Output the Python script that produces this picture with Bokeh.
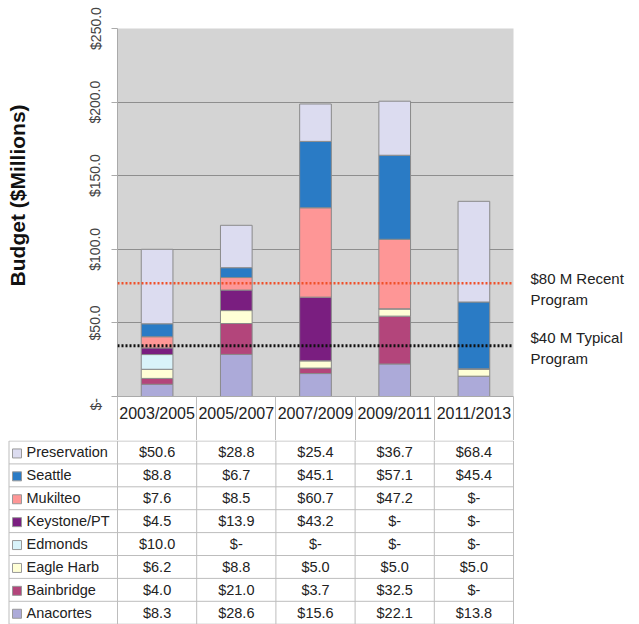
from bokeh.plotting import figure
from bokeh.models import Range1d, FixedTicker, NumeralTickFormatter, Span, ColumnDataSource, LinearAxis
from bokeh.layouts import column
from bokeh.core.properties import value
from bokeh.embed import file_html
from bokeh.resources import INLINE

periods = ["2003/2005", "2005/2007", "2007/2009", "2009/2011", "2011/2013"]
preservation = [50.6, 28.8, 25.4, 36.7, 68.4]
seattle = [8.8, 6.7, 45.1, 57.1, 45.4]
mukilteo = [7.6, 8.5, 60.7, 47.2, 0.0]
keystone = [4.5, 13.9, 43.2, 0.0, 0.0]
edmonds = [10.0, 0.0, 0.0, 0.0, 0.0]
eagle_harb = [6.2, 8.8, 5.0, 5.0, 5.0]
bainbridge = [4.0, 21.0, 3.7, 32.5, 0.0]
anacortes = [8.3, 28.6, 15.6, 22.1, 13.8]

# stacked bottom -> top
series_names = ["Anacortes", "Bainbridge", "Eagle Harb", "Edmonds", "Keystone/PT", "Mukilteo", "Seattle", "Preservation"]
series_values = [anacortes, bainbridge, eagle_harb, edmonds, keystone, mukilteo, seattle, preservation]
series_colors = ["#acaad9", "#b3457b", "#ffffd6", "#d9f3fa", "#7a1e80", "#fe9696", "#2a7bc5", "#dcdcf0"]

y_ticks = [0, 50, 100, 150, 200, 250]
recent_program = 77.0
typical_program = 34.5
y_title = "Budget ($Millions)"
note_texts = ["$80 M Recent", "Program", "$40 M Typical", "Program"]
note_pos = [80.2, 65.9, 40.1, 25.8]

FONT_NAME = "Liberation Sans"
FONT = value(FONT_NAME)
TXT = "#222222"

W = 639
# ---------------- chart ----------------
p = figure(width=W, height=440, output_backend="svg", toolbar_location=None,
           x_range=Range1d(-0.5, len(periods) - 0.5), y_range=Range1d(0, 250),
           min_border_left=117, min_border_right=126, min_border_top=28, min_border_bottom=44,
           frame_align=False)
p.background_fill_color = "#d4d4d4"
p.border_fill_color = "white"
p.outline_line_color = None
p.xgrid.grid_line_color = None
p.ygrid.grid_line_color = "#8e8e8e"
p.ygrid.ticker = FixedTicker(ticks=y_ticks[1:])

src = {"x": list(range(len(periods)))}
for n, v in zip(series_names, series_values):
    src[n] = v
source = ColumnDataSource(src)
p.vbar_stack(series_names, x="x", width=0.4, source=source, color=series_colors,
             line_color="#8a8a8a", line_width=1)

p.add_layout(Span(location=recent_program, dimension="width", line_color="#f0502a",
                  line_dash="2 2", line_width=2.5))
p.add_layout(Span(location=typical_program, dimension="width", line_color="#111111",
                  line_dash="2 2", line_width=3))

# y axis
ya = p.yaxis[0]
ya.ticker = FixedTicker(ticks=y_ticks)
ya.formatter = NumeralTickFormatter(format="$0.0")
ya.major_label_overrides = {0: "$-\u00a0\u00a0\u00a0\u00a0"}
ya.major_label_orientation = "vertical"
ya.major_label_text_font = FONT_NAME
ya.major_label_text_font_size = "14px"
ya.major_label_text_color = "#444444"
ya.major_label_standoff = 8
ya.major_tick_out = 6
ya.major_tick_in = 0
ya.major_tick_line_color = "#aaaaaa"
ya.minor_tick_line_color = None
ya.axis_line_color = "#aaaaaa"

# title axis on the left (second, further out)
ta = LinearAxis(ticker=FixedTicker(ticks=[136.6]), major_label_overrides={136.6: y_title},
                major_label_orientation="vertical", major_label_text_font=FONT_NAME,
                major_label_text_font_size="21px", major_label_text_font_style="bold",
                major_label_text_color="#111111", major_label_standoff=55,
                major_tick_line_color=None, minor_tick_line_color=None, axis_line_color=None,
                major_tick_out=0, major_tick_in=0)
p.add_layout(ta, "left")

# notes on the right
ra = LinearAxis(ticker=FixedTicker(ticks=note_pos),
                major_label_overrides={v: s for v, s in zip(note_pos, note_texts)},
                major_label_orientation="horizontal", major_label_text_font=FONT_NAME,
                major_label_text_font_size="15px", major_label_text_color=TXT,
                major_label_standoff=17, major_tick_line_color=None, minor_tick_line_color=None,
                axis_line_color=None, major_tick_out=0, major_tick_in=0)
p.add_layout(ra, "right")

# x axis (header row)
xa = p.xaxis[0]
xa.ticker = FixedTicker(ticks=list(range(len(periods))),
                        minor_ticks=[i - 0.5 for i in range(len(periods) + 1)])
xa.major_label_overrides = {i: s for i, s in enumerate(periods)}
xa.major_label_text_font = FONT_NAME
xa.major_label_text_font_size = "16px"
xa.major_label_text_color = TXT
xa.major_label_standoff = -36
xa.major_tick_line_color = None
xa.major_tick_out = 0
xa.minor_tick_out = 44
xa.minor_tick_in = 0
xa.minor_tick_line_color = "#bdbdbd"
xa.axis_line_color = "#aaaaaa"

# ---------------- table ----------------
TH = 184
t = figure(width=W, height=TH, output_backend="svg", toolbar_location=None,
           x_range=Range1d(0, W), y_range=Range1d(TH, 0),
           x_axis_type=None, y_axis_type=None, min_border=0, frame_align=False)
t.outline_line_color = None
t.background_fill_color = "white"
t.border_fill_color = "white"

tab_left = 8.5
col_left = 117.0
col_w = 79.2
row_h = 22.9
rows_top_to_bottom = list(range(len(series_names)))[::-1]

hx0, hx1, hy = [], [], []
for i in range(len(series_names) + 1):
    hx0.append(tab_left); hx1.append(col_left + col_w * len(periods)); hy.append(0.5 + row_h * i)
t.segment(x0=hx0, y0=hy, x1=hx1, y1=hy, line_color="#bdbdbd", line_width=1)
vx = [tab_left] + [col_left + col_w * j for j in range(len(periods) + 1)]
t.segment(x0=vx, y0=[0.5] * len(vx), x1=vx, y1=[0.5 + row_h * len(series_names)] * len(vx),
          line_color="#bdbdbd", line_width=1)

names, ny, sq_col = [], [], []
vals, vxs, vys = [], [], []
for r, si in enumerate(rows_top_to_bottom):
    yc = 0.5 + row_h * r + row_h / 2
    names.append(series_names[si]); ny.append(yc); sq_col.append(series_colors[si])
    for c, v in enumerate(series_values[si]):
        vals.append("$-" if v == 0 else f"${v:.1f}")
        vxs.append(col_left + col_w * (c + 0.5))
        vys.append(yc)

t.rect(x=[tab_left + 8] * len(names), y=[y + 1 for y in ny], width=9, height=9, fill_color=sq_col,
       line_color="#999999", line_width=1)
t.text(x=[tab_left + 17.5] * len(names), y=ny, text=names, text_font=FONT, text_font_size=value("14.5px"),
       text_color=TXT, text_baseline="middle", text_align="left")
t.text(x=vxs, y=vys, text=vals, text_font=FONT, text_font_size=value("14.5px"),
       text_color=TXT, text_baseline="middle", text_align="center")

layout = column(p, t, spacing=0)
open("out.html", "w").write(file_html(layout, INLINE))
